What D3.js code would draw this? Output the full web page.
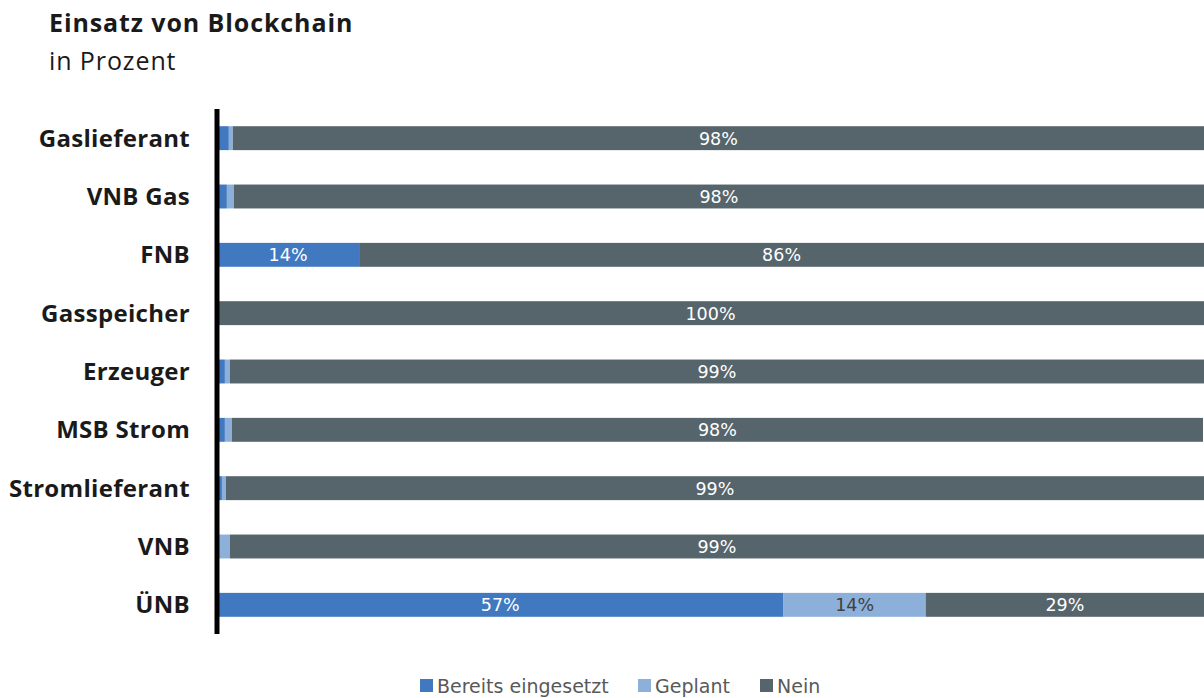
<!DOCTYPE html>
<html><head><meta charset="utf-8">
<script src="https://cdn.jsdelivr.net/npm/d3@7"></script>
<style>body{margin:0;background:#fff;}svg{display:block;}</style>
</head><body>
<svg id="c" width="1204" height="698"></svg>
<script>
const categories = ["Gaslieferant","VNB Gas","FNB","Gasspeicher","Erzeuger","MSB Strom","Stromlieferant","VNB","ÜNB"];
const bereits = [1.2, 1.0, 14.4, 0, 0.8, 0.8, 0.5, 0.2, 57.4];
const geplant = [0.4, 0.7, 0, 0, 0.5, 0.7, 0.4, 1.1, 14.4];
const nein    = [98.4, 98.3, 85.6, 100, 98.7, 98.4, 99.1, 98.7, 28.6];
const seriesNames = ["Bereits eingesetzt","Geplant","Nein"];
const colors = ["#4079c0","#8db0da","#56656c"];
const labelColors = ["#ffffff","#404040","#ffffff"];

const svg = d3.select("#c");
const x0 = 217, x1 = 1204;
const x = d3.scaleLinear().domain([0,100]).range([x0,x1]);
const y = d3.scaleBand().domain(categories).range([109,634]).paddingInner(0.59).paddingOuter(0.295);

const data = categories.map((c,i)=>({cat:c, "Bereits eingesetzt":bereits[i], "Geplant":geplant[i], "Nein":nein[i]}));
const stack = d3.stack().keys(seriesNames)(data);

stack.forEach((s,si)=>{
  const g = svg.append("g");
  g.selectAll("rect").data(s).join("rect")
    .attr("x",d=>x(d[0])).attr("width",d=>Math.max(0,Math.min(x(d[1]),x1)-x(d[0])))
    .attr("y",d=>y(d.data.cat)).attr("height",y.bandwidth())
    .attr("fill",colors[si]);
  g.selectAll("text").data(s.filter(d=>d[1]-d[0]>=5)).join("text")
    .attr("x",d=>(x(d[0])+Math.min(x(d[1]),x1))/2)
    .attr("y",d=>y(d.data.cat)+y.bandwidth()/2+6.5)
    .attr("text-anchor","middle")
    .attr("font-family","'DejaVu Sans',sans-serif")
    .attr("font-size","17.5px")
    .attr("fill",labelColors[si])
    .text(d=>Math.round(d[1]-d[0])+"%");
});

// axis
const yAxis = d3.axisLeft(y).tickSize(0).tickPadding(27);
const ag = svg.append("g").attr("transform",`translate(${x0},0)`).call(yAxis);
ag.select(".domain").remove();
ag.selectAll("text").attr("font-family","'Open Sans', sans-serif").attr("font-weight","bold")
  .attr("font-size","24px").attr("letter-spacing","0.3px").attr("fill","#1a1a1a").attr("dy","0.35em");
svg.append("line").attr("x1",x0).attr("x2",x0).attr("y1",109).attr("y2",634)
  .attr("stroke","#000").attr("stroke-width",5);

// title
svg.append("text").attr("x",49).attr("y",32).attr("font-family","'Open Sans', sans-serif").attr("font-weight","bold")
  .attr("font-size","25px").attr("letter-spacing","0.9px").attr("fill","#1a1a1a").text("Einsatz von Blockchain");
svg.append("text").attr("x",49).attr("y",70).attr("font-family","'Open Sans', sans-serif")
  .attr("font-size","25px").attr("letter-spacing","0.9px").attr("fill","#1a1a1a").text("in Prozent");

// legend
const legX = [420, 638, 760];
seriesNames.forEach((n,i)=>{
  svg.append("rect").attr("x",legX[i]).attr("y",679).attr("width",13).attr("height",13).attr("fill",colors[i]);
  svg.append("text").attr("x",legX[i]+17).attr("y",693).attr("font-family","'DejaVu Sans',sans-serif")
    .attr("font-size","19px").attr("fill","#595959").text(n);
});
</script>
</body></html>
